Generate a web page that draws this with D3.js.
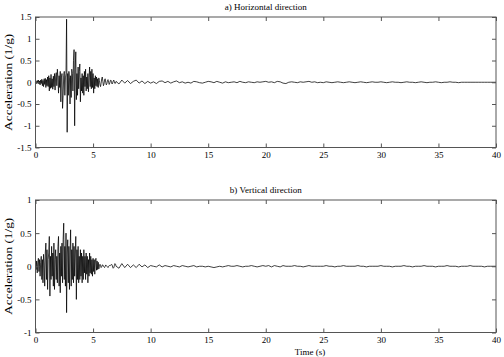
<!DOCTYPE html>
<html>
<head>
<meta charset="utf-8">
<script src="https://cdn.jsdelivr.net/npm/d3@7"></script>
<style>
  body { margin: 0; background: #fff; }
  svg text { font-family: "Liberation Serif", "Times New Roman", serif; fill: #000; }
</style>
</head>
<body>
<svg width="504" height="357"></svg>
<script>
// sampling: strong phase 0..7 s every 0.05 s, coda 7.25..40 s every 0.25 s
var dtStrong = 0.05, dtCoda = 0.25, codaStart = 7.25;

var horizStrong = [
  0, 0.02, -0.03, 0.04, -0.02, 0.05, -0.04, 0.03, -0.06, 0.05,
  -0.03, 0.07, -0.08, 0.04, -0.1, 0.08, -0.05, 0.09, -0.12, 0.06,
  -0.08, 0.12, -0.1, 0.15, -0.2, 0.1, -0.14, 0.18, -0.12, 0.08,
  -0.16, 0.14, -0.1, 0.2, -0.18, 0.12, 0.22, -0.08, 0.3, 0.1,
  -0.25, 0.15, -0.12, 0.25, -0.45, 0.1, 0.2, -0.6, -0.3, 0.15,
  0.25, -0.3, 0.1, 0.2, 1.45, -1.15, 0.2, -0.3, 0.25, 0.1,
  -0.5, 0.15, -0.35, 0.3, 0.2, -0.2, 0.5, 0.75, -1.0, 0.3,
  0.7, -0.4, 0.2, -0.3, 0.35, -0.15, 0.25, 0.42, -0.45, 0.1,
  -0.2, 0.2, -0.25, 0.15, -0.3, 0.25, -0.1, 0.3, -0.2, 0.12,
  -0.15, 0.2, -0.22, 0.1, 0.35, -0.1, 0.25, -0.15, 0.3, -0.12,
  0.2, -0.25, 0.1, -0.15, 0.15, -0.08, 0.12, -0.1, 0.08, -0.12,
  0.1, 0.04, -0.06, -0.1, -0.02, 0.08, 0.12, 0.02, -0.08, -0.04,
  0.05, 0.08, 0.0, -0.06, -0.03, 0.04, 0.06, 0.0, -0.05, -0.02,
  0.04, 0.05, 0.0, -0.04, -0.02, 0.03, 0.05, 0.01, -0.03, -0.02,
  0.02
];
var horizCoda = [
  -0.04, 0.05, -0.02, 0.04, -0.03, 0.02, 0.05, -0.02, 0.03, -0.03,
  0.02, -0.02, 0.01, -0.03, 0.02, 0.03, -0.01, 0.02, -0.02, 0.01,
  0.03, -0.01, 0.01, -0.02, 0.0, -0.02, 0.02, 0.01, -0.01, -0.02,
  0.0, 0.02, 0.01, -0.01, 0.02, 0.0, -0.02, 0.01, -0.01, 0.0,
  0.01, -0.01, 0.02, 0.0, -0.01, 0.01, 0.0, -0.01, 0.01, 0.0,
  0.01, 0.02, 0.0, 0.01, -0.01, 0.02, 0.01, -0.02, -0.03, 0.0,
  0.01, 0.0, -0.01, 0.01, 0.0, 0.01, 0.02, 0.0, 0.01, -0.01,
  0.0, -0.01, 0.01, 0.0, -0.01, 0.0, 0.01, 0.0, -0.01, 0.0,
  0.01, 0.0, -0.01, 0.0, 0.01, 0.0, -0.01, 0.0, 0.01, 0.0,
  0.0, 0.01, 0.0, -0.01, 0.0, 0.01, 0.0, 0.0, -0.01, 0.0,
  0.01, 0.0, 0.0, -0.01, 0.0, 0.01, 0.0, -0.01, 0.0, 0.0,
  0.01, 0.0, -0.01, 0.0, 0.0, 0.01, 0.0, 0.0, -0.01, 0.0,
  0.0, 0.0, 0.0, 0.0, 0.0, 0.0, 0.0, 0.0, 0.0, 0.0,
  0.0, 0.0
];

var vertStrong = [
  0, -0.05, 0.08, -0.1, 0.05, 0.12, -0.08, 0.1, -0.15, 0.06,
  0.15, -0.2, 0.1, -0.25, 0.18, 0.05, -0.3, 0.2, 0.35, -0.2,
  0.25, -0.35, 0.1, 0.2, 0.45, -0.45, 0.15, -0.2, 0.3, -0.15,
  0.2, -0.3, 0.35, -0.35, 0.1, 0.25, -0.2, 0.15, -0.25, 0.3,
  0.45, -0.3, 0.2, -0.4, 0.3, -0.15, 0.35, -0.25, 0.4, 0.65,
  -0.2, 0.3, -0.3, 0.5, -0.7, 0.2, 0.4, -0.25, 0.3, -0.35,
  0.2, 0.55, -0.3, 0.25, -0.2, 0.35, -0.25, 0.3, -0.15, 0.2,
  0.45, -0.5, 0.25, -0.2, 0.3, -0.25, 0.15, -0.2, 0.25, -0.15,
  0.2, -0.25, 0.15, -0.2, 0.25, -0.1, 0.15, -0.2, 0.2, -0.12,
  0.15, -0.25, 0.1, -0.15, 0.2, -0.1, 0.15, -0.12, 0.1, -0.15,
  0.12, -0.08, 0.1, -0.12, 0.08, 0.12, -0.06, 0.08, -0.05, 0.06,
  -0.04, 0.0, 0.03, 0.01, -0.02, -0.01, 0.02, 0.02, 0.0, -0.01,
  -0.02, 0.0, 0.02, 0.01, 0.0, -0.01, -0.02, 0.0, 0.01, 0.01,
  0.01, 0.02, 0.03, 0.02, -0.01, -0.03, -0.02, 0.01, 0.04, 0.03,
  0.0
];
var vertCoda = [
  -0.03, 0.04, -0.02, 0.03, -0.02, 0.02, -0.02, 0.03, -0.01, 0.02,
  -0.02, 0.01, 0.0, -0.01, 0.02, -0.01, 0.01, 0.0, -0.01, 0.01,
  0.0, -0.01, 0.01, 0.0, -0.01, 0.0, 0.01, -0.01, 0.0, 0.0,
  -0.01, 0.0, -0.01, -0.02, -0.01, 0.0, -0.01, 0.0, 0.01, 0.0,
  0.0, 0.01, 0.0, -0.01, 0.0, 0.0, 0.01, 0.0, -0.01, 0.0,
  0.01, 0.0, 0.01, -0.01, 0.01, 0.0, -0.01, 0.01, 0.0, 0.0,
  0.0, 0.01, 0.0, 0.0, -0.01, 0.0, 0.01, 0.0, 0.0, 0.0,
  0.0, 0.0, 0.01, 0.0, 0.0, -0.01, 0.0, 0.0, 0.01, 0.0,
  0.0, 0.0, 0.0, 0.01, 0.0, 0.0, -0.01, 0.0, 0.0, 0.0,
  0.0, 0.01, 0.0, 0.0, 0.0, -0.01, 0.0, 0.0, 0.0, 0.01,
  0.0, 0.0, -0.01, 0.0, 0.0, 0.0, 0.01, 0.0, 0.0, 0.0,
  -0.01, 0.0, 0.0, 0.0, 0.01, 0.0, 0.0, 0.0, -0.01, 0.0,
  0.0, 0.0, 0.01, 0.0, 0.0, 0.0, 0.0, -0.01, 0.0, 0.0,
  0.0, 0.0
];

var xTicks = [0, 5, 10, 15, 20, 25, 30, 35, 40];
var yTicksH = [-1.5, -1, -0.5, 0, 0.5, 1, 1.5];
var yTicksV = [-1, -0.5, 0, 0.5, 1];

function toSeries(strong, coda) {
  var pts = strong.map(function(v, i) { return [i * dtStrong, v]; });
  coda.forEach(function(v, i) { pts.push([codaStart + i * dtCoda, v]); });
  return pts;
}

var svg = d3.select("svg");
var left = 35.5, right = 496;
var serif = "'Liberation Serif', 'Times New Roman', serif";

function drawPanel(opt) {
  var x = d3.scaleLinear().domain([0, 40]).range([left, right]);
  var y = d3.scaleLinear().domain(opt.yDomain).range([opt.bottom, opt.top]);
  var g = svg.append("g");

  // signal
  var line = d3.line().x(function(d) { return x(d[0]); }).y(function(d) { return y(d[1]); });
  g.append("path").datum(opt.data)
    .attr("d", line)
    .attr("fill", "none")
    .attr("stroke", "#000")
    .attr("stroke-width", 0.75)
    .attr("stroke-linejoin", "round");

  // inward ticks on all four sides
  var ax = function(axis, tx, ty) {
    var a = g.append("g").attr("transform", "translate(" + tx + "," + ty + ")").call(axis);
    a.attr("font-family", serif);
    a.select(".domain").remove();
    a.selectAll("line").attr("stroke", "#555");
    a.selectAll("text").attr("font-size", 9);
    return a;
  };
  ax(d3.axisBottom(x).tickValues(xTicks).tickSize(-4).tickPadding(4).tickFormat(d3.format("d")), 0, opt.bottom);
  ax(d3.axisTop(x).tickValues(xTicks).tickSize(-4).tickFormat(""), 0, opt.top);
  ax(d3.axisLeft(y).tickValues(opt.yTicks).tickSize(-4).tickPadding(4).tickFormat(function(d) { return String(d); }), left, 0);
  ax(d3.axisRight(y).tickValues(opt.yTicks).tickSize(-4).tickFormat(""), right, 0);

  // frame
  g.append("rect")
    .attr("x", left).attr("y", opt.top)
    .attr("width", right - left).attr("height", opt.bottom - opt.top)
    .attr("fill", "none").attr("stroke", "#555").attr("stroke-width", 1);

  g.append("text")
    .attr("x", (left + right) / 2).attr("y", opt.top - 7)
    .attr("text-anchor", "middle").attr("font-size", 9)
    .text(opt.title);

  g.append("text")
    .attr("transform", "translate(12," + ((opt.top + opt.bottom) / 2) + ") rotate(-90)")
    .attr("text-anchor", "middle").attr("font-size", 10)
    .attr("textLength", 97).attr("lengthAdjust", "spacingAndGlyphs")
    .text("Acceleration (1/g)");
}

drawPanel({
  title: "a) Horizontal direction",
  data: toSeries(horizStrong, horizCoda),
  yDomain: [-1.5, 1.5], yTicks: yTicksH,
  top: 17, bottom: 147.5
});
drawPanel({
  title: "b) Vertical direction",
  data: toSeries(vertStrong, vertCoda),
  yDomain: [-1, 1], yTicks: yTicksV,
  top: 200, bottom: 332.5
});

svg.append("text")
  .attr("x", 310).attr("y", 355)
  .attr("text-anchor", "middle").attr("font-size", 9)
  .text("Time (s)");
</script>
</body>
</html>
